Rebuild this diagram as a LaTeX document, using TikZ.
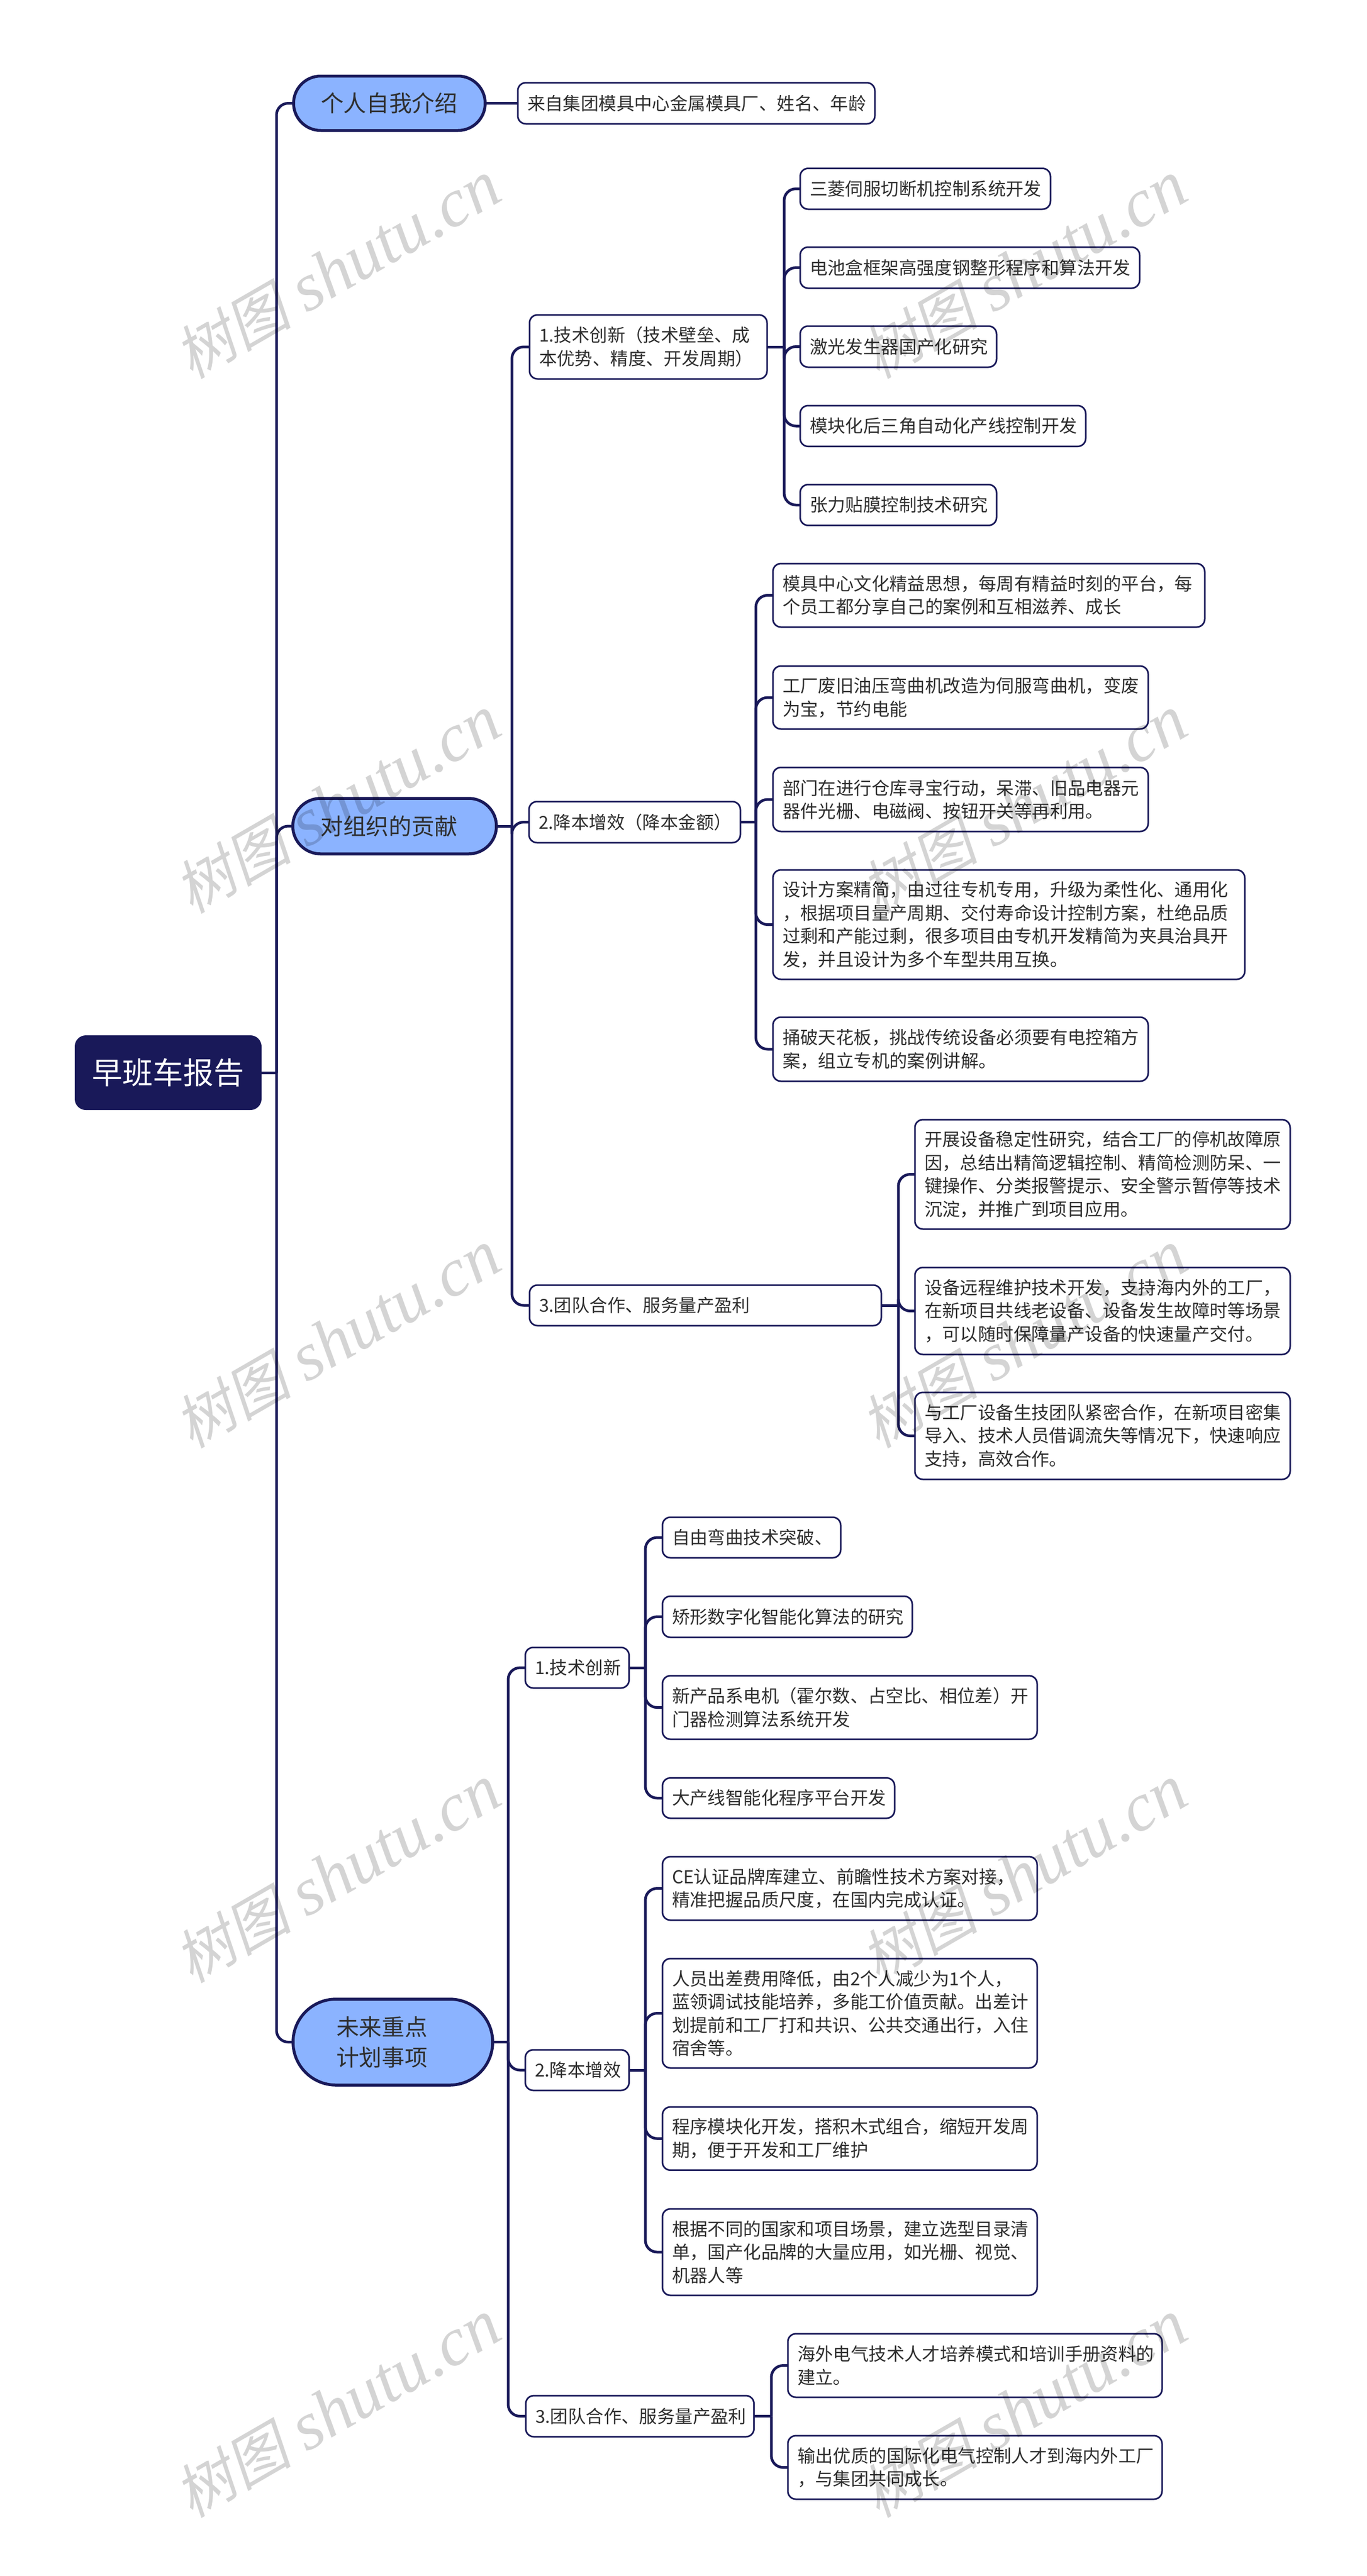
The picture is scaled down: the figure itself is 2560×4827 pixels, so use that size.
\documentclass[tikz,border=0pt]{standalone}
\usepackage{fontspec}
\setmainfont{Noto Sans CJK SC}
\newfontfamily\wmcjk[FakeSlant=0.2]{Noto Sans CJK SC}
\newfontfamily\wmlat{Liberation Serif}[ItalicFont=* Italic]
\definecolor{navy}{HTML}{191959}
\definecolor{topicblue}{HTML}{8BB3FF}
\definecolor{inktext}{HTML}{2E2E2E}
\tikzset{
  edge/.style={draw=navy,line width=5pt},
  boxbase/.style={shape=rectangle,outer sep=0pt,inner ysep=0pt,align=left},
  leafbox/.style={boxbase,draw=navy,line width=3pt,fill=white,rounded corners=15pt,text=inktext,inner xsep=18pt,font=\fontsize{33.4}{43.5}\selectfont},
  topicbox/.style={boxbase,draw=navy,line width=5.5pt,fill=topicblue,text=inktext,font=\fontsize{42.7}{57}\selectfont},
  rootbox/.style={boxbase,draw=navy,line width=2pt,fill=navy,text=white,rounded corners=20pt,inner xsep=31pt,align=left,font=\fontsize{57}{66}\selectfont},
  watermark/.style={black,opacity=0.17,text opacity=0.17,rotate=30,anchor=center,inner sep=0pt}
}
% name, left, top, right, bottom, text
\newcommand{\leafnode}[6]{%
  \pgfmathsetlengthmacro{\mytw}{(#4-#2)*1pt-36pt}%
  \pgfmathsetlengthmacro{\myh}{(#5-#3)*1pt}%
  \pgfmathsetmacro{\mycx}{(#2+#4)/2}%
  \pgfmathsetmacro{\mycy}{(#3+#5)/2}%
  \node[leafbox,text width=\mytw,minimum height=\myh] (#1) at (\mycx,\mycy) {#6};%
}
% name, left, top, right, bottom, xpad, text
\newcommand{\topicnode}[7]{%
  \pgfmathsetlengthmacro{\mytw}{(#4-#2)*1pt-2*#6pt}%
  \pgfmathsetlengthmacro{\myh}{(#5-#3)*1pt}%
  \pgfmathsetlengthmacro{\myr}{(#5-#3)*0.5pt}%
  \pgfmathsetmacro{\mycx}{(#2+#4)/2}%
  \pgfmathsetmacro{\mycy}{(#3+#5)/2}%
  \node[topicbox,text width=\mytw,inner xsep=#6pt,minimum height=\myh,rounded corners=\myr] (#1) at (\mycx,\mycy) {#7};%
}
% parent, child, horizontal distance to bus
\newcommand{\conn}[3]{%
  \draw[edge] (#1.east) -- ++(#3,0);%
  \draw[edge,rounded corners=22pt] (#1.east) ++(#3,0) |- (#2.west);%
}
\newcommand{\wmtext}{{\fontsize{110}{110}\selectfont\wmcjk 树图}\hspace{28pt}{\fontsize{128}{128}\selectfont\wmlat\itshape shutu.cn}}
\begin{document}
\begin{tikzpicture}[x=1pt,y=-1pt]
\useasboundingbox (0,0) rectangle (2560,4827);
\fill[white] (0,0) rectangle (2560,4827);

% root
\node[rootbox,minimum width=348pt,minimum height=138pt] (root) at (315,2010) {早班车报告};

% topics
\topicnode{tA}{550}{142.5}{909}{244.5}{51}{个人自我介绍}
\topicnode{tB}{548.5}{1496}{930}{1600}{52}{对组织的贡献}
\topicnode{tC}{549}{3746}{923}{3907}{81}{未来重点\\计划事项}

% topic A
\leafnode{a1}{970}{155}{1639}{232}{来自集团模具中心金属模具厂、姓名、年龄}

% topic B level 2
\leafnode{b1}{992}{590}{1437}{710}{1.技术创新（技术壁垒、成\\本优势、精度、开发周期）}
\leafnode{b2}{991}{1502}{1387}{1579}{2.降本增效（降本金额）}
\leafnode{b3}{992}{2408}{1651}{2484}{3.团队合作、服务量产盈利}

% b1 leaves
\leafnode{b1a}{1499}{315.5}{1968}{392}{三菱伺服切断机控制系统开发}
\leafnode{b1b}{1499}{463}{2135}{540}{电池盒框架高强度钢整形程序和算法开发}
\leafnode{b1c}{1499}{611}{1867}{688}{激光发生器国产化研究}
\leafnode{b1d}{1499}{760}{2034}{836.5}{模块化后三角自动化产线控制开发}
\leafnode{b1e}{1499}{908}{1867}{984.5}{张力贴膜控制技术研究}

% b2 leaves
\leafnode{b2a}{1448}{1056}{2257}{1175}{模具中心文化精益思想，每周有精益时刻的平台，每\\个员工都分享自己的案例和互相滋养、成长}
\leafnode{b2b}{1448}{1248}{2151}{1366}{工厂废旧油压弯曲机改造为伺服弯曲机，变废\\为宝，节约电能}
\leafnode{b2c}{1448}{1438}{2151}{1558}{部门在进行仓库寻宝行动，呆滞、旧品电器元\\器件光栅、电磁阀、按钮开关等再利用。}
\leafnode{b2d}{1448}{1630}{2332}{1835}{设计方案精简，由过往专机专用，升级为柔性化、通用化\\，根据项目量产周期、交付寿命设计控制方案，杜绝品质\\过剩和产能过剩，很多项目由专机开发精简为夹具治具开\\发，并且设计为多个车型共用互换。}
\leafnode{b2e}{1448}{1906}{2151}{2026}{捅破天花板，挑战传统设备必须要有电控箱方\\案，组立专机的案例讲解。}

% b3 leaves
\leafnode{b3a}{1714}{2098}{2417}{2303}{开展设备稳定性研究，结合工厂的停机故障原\\因，总结出精简逻辑控制、精简检测防呆、一\\键操作、分类报警提示、安全警示暂停等技术\\沉淀，并推广到项目应用。}
\leafnode{b3b}{1714}{2375}{2417}{2538}{设备远程维护技术开发，支持海内外的工厂，\\在新项目共线老设备、设备发生故障时等场景\\，可以随时保障量产设备的快速量产交付。}
\leafnode{b3c}{1714}{2609}{2417}{2772}{与工厂设备生技团队紧密合作，在新项目密集\\导入、技术人员借调流失等情况下，快速响应\\支持，高效合作。}

% topic C level 2
\leafnode{c1}{984}{3087}{1178.5}{3163}{1.技术创新}
\leafnode{c2}{984}{3841}{1178.5}{3917}{2.降本增效}
\leafnode{c3}{985}{4489}{1412.5}{4566}{3.团队合作、服务量产盈利}

% c1 leaves
\leafnode{c1a}{1241}{2843}{1575}{2919}{自由弯曲技术突破、}
\leafnode{c1b}{1241}{2991}{1709}{3068}{矫形数字化智能化算法的研究}
\leafnode{c1c}{1241}{3140}{1943}{3259}{新产品系电机（霍尔数、占空比、相位差）开\\门器检测算法系统开发}
\leafnode{c1d}{1241}{3331.5}{1676}{3407}{大产线智能化程序平台开发}

% c2 leaves
\leafnode{c2a}{1241}{3479}{1943}{3598}{CE认证品牌库建立、前瞻性技术方案对接，\\精准把握品质尺度，在国内完成认证。}
\leafnode{c2b}{1241}{3670}{1943}{3875}{人员出差费用降低，由2个人减少为1个人，\\蓝领调试技能培养，多能工价值贡献。出差计\\划提前和工厂打和共识、公共交通出行，入住\\宿舍等。}
\leafnode{c2c}{1241}{3948}{1943}{4066.5}{程序模块化开发，搭积木式组合，缩短开发周\\期，便于开发和工厂维护}
\leafnode{c2d}{1241}{4139}{1943}{4301}{根据不同的国家和项目场景，建立选型目录清\\单，国产化品牌的大量应用，如光栅、视觉、\\机器人等}

% c3 leaves
\leafnode{c3a}{1476}{4373}{2177}{4492}{海外电气技术人才培养模式和培训手册资料的\\建立。}
\leafnode{c3b}{1476}{4564}{2177}{4683}{输出优质的国际化电气控制人才到海内外工厂\\，与集团共同成长。}

% connectors
\conn{root}{tA}{29}
\conn{root}{tB}{29}
\conn{root}{tC}{29}
\draw[edge] (tA.east) -- (a1.west);
\conn{tB}{b1}{29}
\conn{tB}{b2}{29}
\conn{tB}{b3}{29}
\conn{b1}{b1a}{32}
\conn{b1}{b1b}{32}
\conn{b1}{b1c}{32}
\conn{b1}{b1d}{32}
\conn{b1}{b1e}{32}
\conn{b2}{b2a}{29}
\conn{b2}{b2b}{29}
\conn{b2}{b2c}{29}
\conn{b2}{b2d}{29}
\conn{b2}{b2e}{29}
\conn{b3}{b3a}{32}
\conn{b3}{b3b}{32}
\conn{b3}{b3c}{32}
\conn{tC}{c1}{29}
\conn{tC}{c2}{29}
\conn{tC}{c3}{29}
\conn{c1}{c1a}{30.5}
\conn{c1}{c1b}{30.5}
\conn{c1}{c1c}{30.5}
\conn{c1}{c1d}{30.5}
\conn{c2}{c2a}{30.5}
\conn{c2}{c2b}{30.5}
\conn{c2}{c2c}{30.5}
\conn{c2}{c2d}{30.5}
\conn{c3}{c3a}{32.5}
\conn{c3}{c3b}{32.5}

% watermarks
\foreach \wy [count=\wi] in {506,1508,2510,3512,4514}{
  \node[watermark] (wl\wi) at (632,\wy) {\wmtext};
  \node[watermark] (wr\wi) at (1918,\wy) {\wmtext};
}
\end{tikzpicture}
\end{document}
